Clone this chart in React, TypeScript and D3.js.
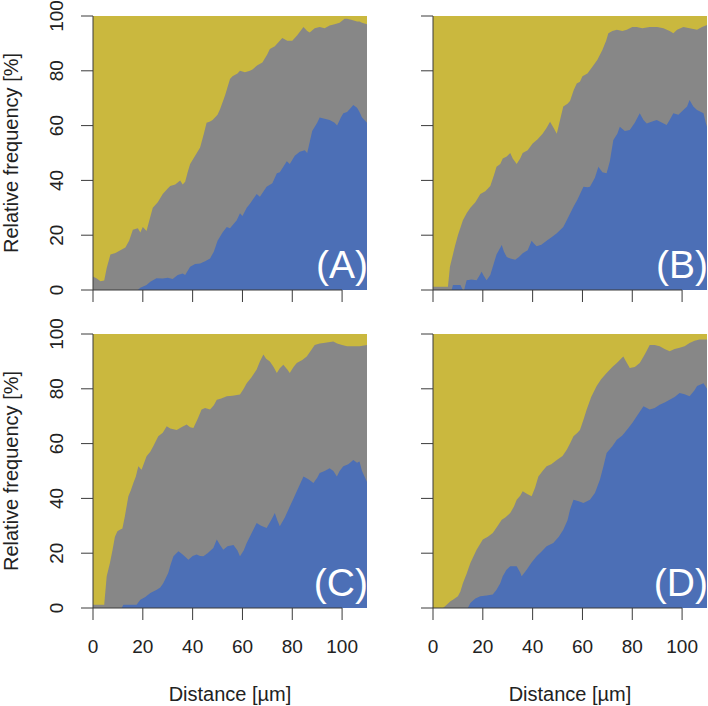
import * as React from "react";
import * as d3 from "d3";

// [distance µm, cumulative %], top edge of each band
const grayA = [[0,4.9],[1.5,4.2],[3,3.2],[4.5,3.5],[5.5,8],[7,13],[9,13.5],[11,14.5],[13,15.5],[14.5,18],[16,22],[18,22.5],[19,21],[20,23],[21.5,21.5],[22.5,25],[24,30],[26,32],[28,35],[30,37],[31,38],[33,38.5],[35,40],[36,38.5],[37,39.5],[38,43],[39,46],[41,49],[43,52],[44.5,57],[45.6,61],[47,61.5],[48,62],[50,64],[51,66],[53,71],[55,77],[56,78],[58,79],[59,80],[61,79.5],[63,80],[64,80.5],[66,82],[68,83],[70,86],[71,88],[73,89],[75,91],[76,92],[78,91],[80,91],[82,93],[84.5,96],[86,94.5],[87,94],[89,95.5],[91,96],[93,95.5],[95,96.5],[97,97],[99,97.5],[101,99],[102,99],[104,98.5],[106,98],[107,98],[108,97.5],[110,97]];
const blueA = [[0,0],[18,0],[19,0.8],[21.5,1.8],[23,3],[25.5,4.3],[28,4.2],[30,4.5],[32,4],[34,5.5],[36,6],[37,5.5],[39,8.5],[41,9.5],[43,9.7],[45,10.5],[47,11.5],[48.5,14],[50,18],[52,21],[53.7,23],[55,22.5],[57.7,25.5],[59,28],[60,27],[61.7,30],[63,31.5],[65.7,35],[67,34],[69.7,37.7],[72,39],[73.8,42.6],[75,43],[77.8,47],[79,46],[81,49],[83,50.5],[85,51],[86,50],[87,54],[88,58],[90,61],[91,63],[93,62.5],[95,62],[97,61],[98,60],[99.5,63],[100.5,64.5],[102,65],[103,66],[104.5,67.5],[106,66.5],[107,65],[108,63],[110,61]];

const grayB = [[0,1.2],[6,1.2],[6.8,8.5],[8,13],[8.8,16],[10,20],[12,25.5],[13.5,28],[15,30],[17,32],[19,35],[21,36],[23,38],[24.5,42],[25.5,45],[27,46],[28,48],[29.6,48.7],[31,50],[32,48],[33.6,46],[35,48],[36,50],[38,51],[40,53.5],[42,55],[44,57],[45.5,59],[47,61.4],[48.5,59],[49.7,57],[51,62],[52.3,67],[54,68],[55,69],[56.5,73],[57.7,75.4],[59,76],[60,78],[62,79],[64,81.5],[66,84],[68,87.6],[69.5,91],[70.4,93.7],[72,94.5],[73.8,95],[76,94.5],[77.8,95],[80,96],[81.8,96],[84,95.5],[87,96],[90,96],[92.5,95.5],[95,94.5],[96.5,93.7],[98,95],[100.5,96],[103,95.5],[106,95],[108,96],[110,96.7]];
const blueB = [[0,0],[7.5,0],[8,1.8],[11,1.8],[12,0],[12.5,0],[13.5,3.6],[15.5,3.8],[17.5,3.6],[18.5,5],[19.5,6.7],[20.5,5],[21.5,3.6],[23,5.5],[24,8.5],[25.5,13],[27.6,16.4],[28.5,14],[29.6,12],[31,11.5],[33,11],[34.5,12],[36,13.4],[38,14.5],[39.6,18],[40.5,17],[41.6,16],[43.5,16.5],[45.6,18],[48,19.5],[49.7,20.7],[52.3,23],[54,26],[56.4,30.4],[58,33],[60.4,37.7],[62,37.5],[63,37.7],[65,41],[66.4,45],[68,43],[69.7,42.6],[71,47],[72.4,54.7],[74,57],[75,59.6],[77,58],[79,58.4],[81,61],[83,64.5],[84.5,62],[85.8,60.8],[88,61.5],[89.8,62],[92,61],[93.8,60.2],[95,62],[96.5,64.5],[98.5,64],[100.5,65.7],[102,67],[103,69.3],[104.5,67],[106,65.7],[108.6,64.5],[109.5,61],[110,59.6]];

const grayC = [[0,1.2],[4.5,1.2],[5.5,11.6],[6.8,16.4],[7.8,21],[8.8,26],[9.8,28],[10.8,28.6],[11.8,29],[12.8,33.5],[14.2,40.8],[15.2,43],[16.2,45.6],[17.2,48],[18.2,51.7],[19.5,50.5],[21.5,55.4],[23,57],[24.2,59],[26.2,62.7],[28,64],[29.6,66.3],[31,65.5],[33.6,65],[35.5,66],[37.6,67],[39,66],[40.3,65.7],[42,69],[43.6,72.4],[45,73],[47,72.4],[48.5,74],[49.7,76],[51.5,76.5],[53.7,77.3],[56,77.5],[59,77.9],[60.5,80],[61.7,82],[63.5,84],[65.7,87],[67,90],[68.4,92.5],[69.5,91],[71,90],[72.5,88],[73.8,85.8],[75,87.5],[76.4,88.8],[78,87],[79,85.8],[80.5,88],[81.8,89.4],[84,90.5],[85.8,91.8],[87.5,94],[89,96],[91,96.5],[92.5,96.7],[94.5,97],[96.5,97.3],[98,96.5],[100,96],[102,95.5],[104,95.5],[107,95.5],[110,96]];
const blueC = [[0,0],[11.5,0],[12.2,1.2],[17.5,1.2],[19,3],[21,4],[23,5.5],[25.6,6.7],[27,7.5],[28.2,9],[30.2,12.8],[31.2,16],[32.3,18.9],[34.3,20.7],[36,19.5],[38.3,17.6],[40,19],[41.6,19.5],[43,19],[44.3,18.9],[46,20],[48.3,21.9],[49.7,25],[51,23],[52.3,21.3],[54,22.5],[56.4,23],[58,21],[59,18.9],[60.5,21],[61.7,23.7],[63.5,27],[65.7,31],[67.5,30],[69.7,29.2],[71.5,32],[73,34.7],[74,32],[75,29.8],[77,33],[79,37],[80.5,40],[81.8,42.6],[83,45],[84.5,48],[86.5,47],[88.5,45.6],[90,47.5],[91,49.3],[93,50],[95,51],[96.5,50],[97.9,48],[99,50],[100.5,51.7],[102.5,52.5],[104.5,54],[106,53],[107,53.5],[108,50],[109,48],[110,46]];

const grayD = [[0,0],[4,0],[5.5,1.2],[7,2.5],[8,3],[10,4.3],[11,6],[12,9],[13.5,12.5],[15,16.4],[17.5,21.3],[20,25],[22,26],[24,27.4],[26,30],[27.6,32.2],[29,33],[31,34.7],[32.5,37],[33.6,39.5],[35,41],[36,42.6],[38,41.5],[39.6,40.8],[41,44],[42.3,48],[44,50],[45.6,51.7],[47.5,52.5],[49.7,54],[52,55.5],[53.7,57.8],[55,60],[56.4,62.7],[58,64],[59,65],[60.5,69],[61.7,72.4],[63.5,77],[65.7,81],[67.5,83.5],[69.7,85.8],[72,88],[73.8,89.4],[75,90.5],[76.4,91.8],[77.5,90],[79,87.6],[81,88],[83,89.4],[85,92.5],[87,96],[89,96],[91,95.5],[93,94.5],[95,93.7],[97,94.5],[99,95],[101,95.5],[103,96.7],[105,97.5],[107,98],[110,98]];
const blueD = [[0,0],[14,0],[15,1.8],[17,3.5],[19,4.3],[21.5,4.6],[24,4.9],[25.5,6.7],[27,9],[28,11.6],[29.5,14],[31,15.2],[33.6,15.2],[35,13],[35.6,11.6],[37.6,14],[39.5,16.5],[41.6,18.9],[43.5,20.5],[45.6,22.5],[48.3,23.7],[50.5,26],[52.3,28.6],[54,32],[55,35.9],[56.4,39.5],[58.5,39],[60.4,38.3],[63,39.5],[65,42],[67,46.8],[68.5,52],[69.7,56.6],[72,59],[73.8,61.4],[76,63],[77.8,65],[80,67.5],[81.8,70],[84.5,73.6],[87,72.4],[89,73],[91,74.2],[93,75],[95,76],[97,77],[99,78.5],[101,78],[103,77.3],[105,79.5],[106,81],[108.6,82],[110,80]];

const panelLabels = ["(A)", "(B)", "(C)", "(D)"];
const distanceTicks = [0, 20, 40, 60, 80, 100];
const frequencyTicks = [0, 20, 40, 60, 80, 100];

const yellow = "#cab83e";
const gray = "#878787";
const blue = "#4c6fb6";
const axisColor = "#3a3a3a";
const font = "'Liberation Sans', Arial, Helvetica, sans-serif";

const plotW = 274;
const plotH = 274;

function Panel({
	x0,
	y0,
	grayTop,
	blueTop,
	label,
	leftLabels,
	bottomLabels,
}: {
	x0: number;
	y0: number;
	grayTop: number[][];
	blueTop: number[][];
	label: string;
	leftLabels: boolean;
	bottomLabels: boolean;
}) {
	const xScale = d3.scaleLinear([0, 110], [0, plotW]);
	const yScale = d3.scaleLinear([0, 100], [plotH, 0]);
	const area = d3
		.area<number[]>()
		.x((d) => xScale(d[0]))
		.y0(yScale(0))
		.y1((d) => yScale(d[1]));

	return (
		<g transform={`translate(${x0} ${y0})`}>
			<rect
				x={xScale(0)}
				y={yScale(100)}
				width={xScale(110) - xScale(0)}
				height={yScale(0) - yScale(100)}
				fill={yellow}
			/>
			<path d={area(grayTop) || ""} fill={gray} />
			<path d={area(blueTop) || ""} fill={blue} />
			<text
				x={xScale(110) + 1}
				y={plotH - 12}
				textAnchor="end"
				fontSize={39}
				fill="white"
				fontFamily={font}
			>
				{label}
			</text>

			{/* y axis */}
			<line
				x1={0}
				x2={0}
				y1={yScale(0)}
				y2={yScale(100)}
				stroke={axisColor}
			/>
			{frequencyTicks.map((t) => (
				<g key={t} transform={`translate(0 ${yScale(t)})`}>
					<line x1={-12} x2={0} stroke={axisColor} />
					{leftLabels && (
						<text
							transform="translate(-30 0) rotate(-90)"
							textAnchor="middle"
							fontSize={19}
							fill="#222"
							fontFamily={font}
						>
							{t}
						</text>
					)}
				</g>
			))}

			{/* x axis */}
			<line
				x1={xScale(0)}
				x2={xScale(100)}
				y1={plotH}
				y2={plotH}
				stroke={axisColor}
			/>
			{distanceTicks.map((t) => (
				<g key={t} transform={`translate(${xScale(t)} ${plotH})`}>
					<line y1={0} y2={12} stroke={axisColor} />
					{bottomLabels && (
						<text
							y={45}
							textAnchor="middle"
							fontSize={19}
							fill="#222"
							fontFamily={font}
						>
							{t}
						</text>
					)}
				</g>
			))}
			{leftLabels && (
				<text
					transform={`translate(-75 ${plotH / 2}) rotate(-90)`}
					textAnchor="middle"
					fontSize={20}
					fill="#222"
					fontFamily={font}
				>
					Relative frequency [%]
				</text>
			)}
			{bottomLabels && (
				<text
					x={plotW / 2}
					y={plotH + 93}
					textAnchor="middle"
					fontSize={20}
					fill="#222"
					fontFamily={font}
				>
					Distance [µm]
				</text>
			)}
		</g>
	);
}

export default function App() {
	const panels = [
		{ x0: 93, y0: 16, grayTop: grayA, blueTop: blueA },
		{ x0: 433, y0: 16, grayTop: grayB, blueTop: blueB },
		{ x0: 93, y0: 334, grayTop: grayC, blueTop: blueC },
		{ x0: 433, y0: 334, grayTop: grayD, blueTop: blueD },
	];
	return (
		<svg
			width={708}
			height={706}
			style={{ position: "absolute", left: 0, top: 0, background: "white" }}
		>
			{panels.map((p, i) => (
				<Panel
					key={i}
					{...p}
					label={panelLabels[i]}
					leftLabels={i % 2 === 0}
					bottomLabels={i >= 2}
				/>
			))}
		</svg>
	);
}
